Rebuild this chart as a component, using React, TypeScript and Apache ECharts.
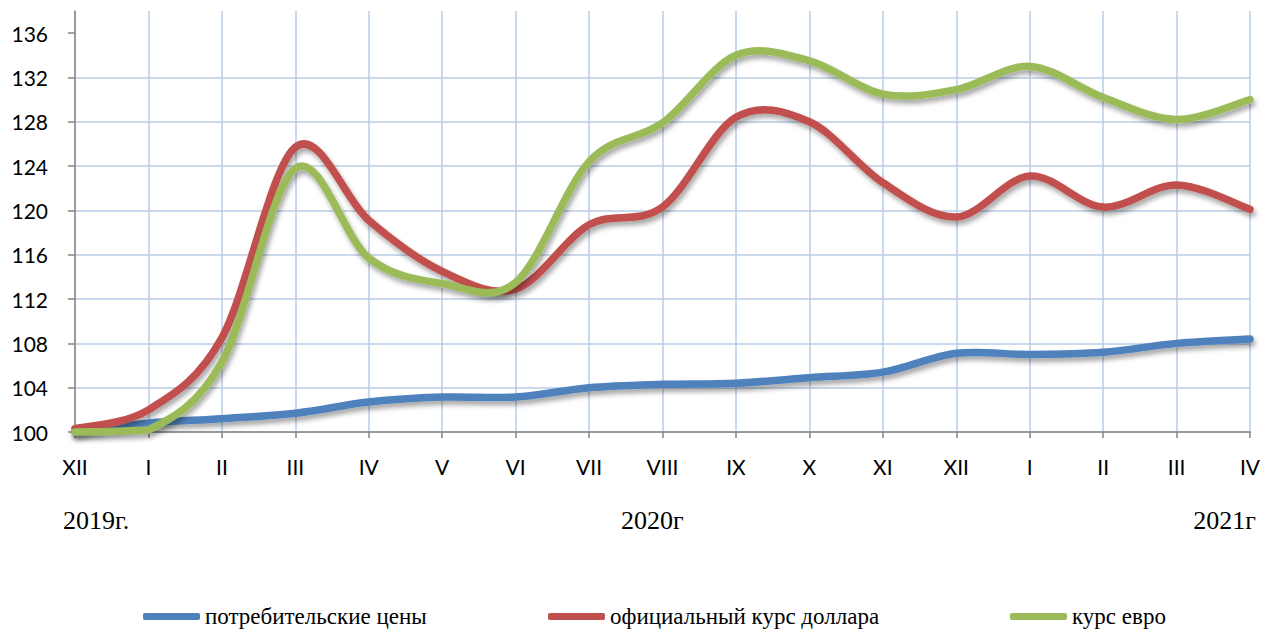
import React, { useEffect, useRef } from "react";
import * as echarts from "echarts";

const months = ["XII", "I", "II", "III", "IV", "V", "VI", "VII", "VIII", "IX", "X", "XI", "XII", "I", "II", "III", "IV"];
const consumerPrices = [100, 100.8, 101.2, 101.7, 102.7, 103.15, 103.15, 104.0, 104.3, 104.4, 104.9, 105.4, 107.1, 107.0, 107.2, 108.0, 108.4];
const usdRate = [100.3, 102.0, 108.5, 125.7, 119.1, 114.5, 112.9, 118.7, 120.3, 128.4, 128.0, 122.5, 119.4, 123.1, 120.3, 122.3, 120.1];
const eurRate = [100, 100.2, 106.3, 123.8, 115.7, 113.4, 113.5, 124.4, 127.9, 134.0, 133.5, 130.5, 130.9, 133.0, 130.2, 128.2, 130.0];
const seriesNames = ["потребительские цены", "официальный курс доллара", "курс евро"];
const seriesColors = ["#4F81BD", "#C0504D", "#9BBB59"];
const yTicks = [100, 104, 108, 112, 116, 120, 124, 128, 132, 136];
const yearLabels = ["2019г.", "2020г", "2021г"];

// Smooth curve through the data points (Catmull-Rom style, like the spreadsheet's smoothed lines)
function smoothPath(pts: number[][], yBottom: number): string {
  const n = pts.length;
  let d = `M${pts[0][0]},${pts[0][1]}`;
  for (let i = 0; i < n - 1; i++) {
    const p0 = pts[Math.max(0, i - 1)];
    const p1 = pts[i];
    const p2 = pts[i + 1];
    const p3 = pts[Math.min(n - 1, i + 2)];
    const c1x = p1[0] + (p2[0] - p0[0]) / 6;
    const c1y = Math.min(yBottom, p1[1] + (p2[1] - p0[1]) / 6);
    const c2x = p2[0] - (p3[0] - p1[0]) / 6;
    const c2y = Math.min(yBottom, p2[1] - (p3[1] - p1[1]) / 6);
    d += ` C${c1x},${c1y} ${c2x},${c2y} ${p2[0]},${p2[1]}`;
  }
  return d;
}

export default function App() {
  const ref = useRef<HTMLDivElement>(null);
  useEffect(() => {
    if (!ref.current) return;
    const chart = echarts.init(ref.current, null, { renderer: "svg" });
    const values = [consumerPrices, usdRate, eurRate];
    const legendLefts = [143, 548, 1010];
    const option: any = {
      animation: false,
      backgroundColor: "#ffffff",
      grid: { left: 75, right: 27, top: 11, bottom: 200, containLabel: false },
      xAxis: {
        type: "category",
        data: months,
        boundaryGap: false,
        axisLine: { show: true, lineStyle: { color: "#868686", width: 1.5 } },
        axisTick: { show: true, length: 6, lineStyle: { color: "#868686", width: 1.5 } },
        axisLabel: { color: "#000", fontFamily: "Lato", fontSize: 21, margin: 24 },
        splitLine: { show: true, lineStyle: { color: "#B9CDE5", width: 1.5 } },
      },
      yAxis: {
        type: "value",
        min: 100,
        max: 138,
        interval: 4,
        axisLine: { show: true, lineStyle: { color: "#868686", width: 1.5 } },
        axisTick: { show: true, length: 7, customValues: yTicks, lineStyle: { color: "#868686", width: 1.5 } },
        axisLabel: { color: "#000", fontFamily: "Lato", fontSize: 21, margin: 27, customValues: yTicks },
        splitLine: { show: true, showMaxLine: false, lineStyle: { color: "#B9CDE5", width: 1.5 } },
      },
      legend: seriesNames.map((n, i) => ({
        data: [n],
        left: legendLefts[i],
        top: 605,
        padding: 0,
        icon: "roundRect",
        itemWidth: 57,
        itemHeight: 7,
        textStyle: { color: "#000", fontFamily: "Liberation Serif", fontSize: 23 },
      })),
      graphic: [
        { type: "text", left: 63, top: 507, style: { text: yearLabels[0], font: "26px 'Liberation Serif'", fill: "#000" } },
        { type: "text", left: 621, top: 507, style: { text: yearLabels[1], font: "26px 'Liberation Serif'", fill: "#000" } },
        { type: "text", right: 21, top: 507, style: { text: yearLabels[2], font: "26px 'Liberation Serif'", fill: "#000" } },
      ],
      series: seriesNames.map((n, i) => ({
        name: n,
        type: "custom",
        coordinateSystem: "cartesian2d",
        data: values[i].map((v, k) => [k, v]),
        encode: { x: 0, y: 1 },
        itemStyle: { color: seriesColors[i] },
        z: 2 + i,
        renderItem: (params: any, api: any) => {
          if (params.dataIndex !== 0) return null;
          const pts = values[i].map((v, k) => api.coord([k, v]));
          const yBottom = api.coord([0, 100])[1];
          return {
            type: "path",
            shape: { pathData: smoothPath(pts, yBottom) },
            style: {
              fill: "none",
              stroke: seriesColors[i],
              lineWidth: 7.5,
              lineCap: "round",
              lineJoin: "round",
              shadowColor: "rgba(0,0,0,0.35)",
              shadowBlur: 5,
              shadowOffsetX: 2,
              shadowOffsetY: 4,
            },
          };
        },
      })),
    };
    chart.setOption(option);
    return () => chart.dispose();
  }, []);
  return <div ref={ref} style={{ width: 1277, height: 632, position: "absolute", left: 0, top: 0 }} />;
}
